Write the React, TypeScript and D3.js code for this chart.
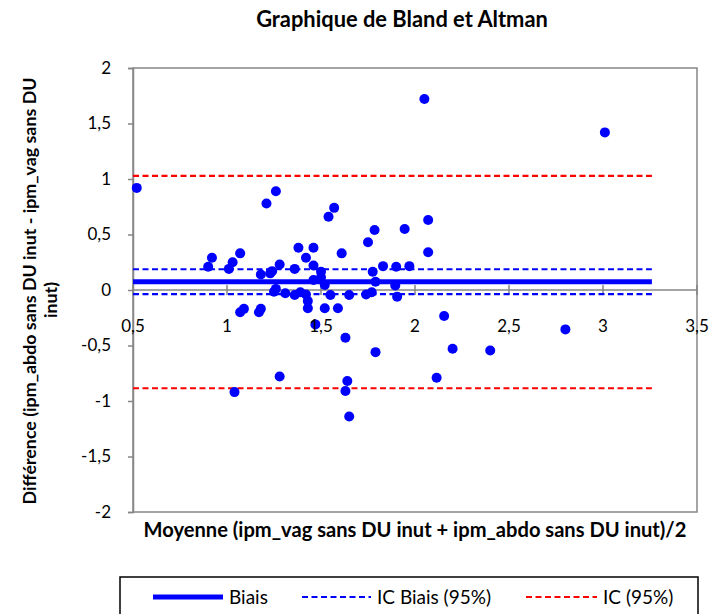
import React, { useEffect, useRef } from 'react'
import * as d3 from 'd3'

// moyenne (x) / différence (y)
const moyennes = [
  0.52, 0.9, 0.92, 1.01, 1.03, 1.04, 1.07, 1.07, 1.09, 1.17, 1.18, 1.18, 1.21, 1.23, 1.24, 1.26, 1.26, 1.25,
  1.28, 1.28, 1.31, 1.36, 1.36, 1.38, 1.39, 1.42, 1.42, 1.43, 1.43, 1.46, 1.46, 1.46, 1.47, 1.5, 1.5, 1.52,
  1.52, 1.54, 1.55, 1.57, 1.59, 1.61, 1.63, 1.63, 1.64, 1.65, 1.65, 1.74, 1.75, 1.77, 1.775, 1.785, 1.79,
  1.79, 1.83, 1.895, 1.9, 1.905, 1.945, 1.97, 2.05, 2.07, 2.07, 2.115, 2.155, 2.2, 2.4, 2.8, 3.01,
]
const differences = [
  0.92, 0.21, 0.29, 0.19, 0.25, -0.92, 0.33, -0.2, -0.17, -0.2, -0.17, 0.14, 0.78, 0.15, 0.17, 0.89, 0.01, -0.015,
  0.23, -0.78, -0.03, 0.19, -0.045, 0.38, -0.02, 0.29, -0.04, -0.1, -0.165, 0.38, 0.22, 0.09, -0.31, 0.165, 0.115, 0.045,
  -0.165, 0.66, -0.045, 0.74, -0.165, 0.33, -0.43, -0.91, -0.82, -1.14, -0.045, -0.04, 0.43, -0.02, 0.165, 0.54, 0.075,
  -0.56, 0.215, 0.04, 0.21, -0.06, 0.55, 0.215, 1.72, 0.63, 0.34, -0.79, -0.235, -0.53, -0.545, -0.355, 1.42,
]

const biais = 0.075
const icBiais = [0.187, -0.038]
const ic = [1.028, -0.885]
const lineRange = [0.5, 3.26]

const xTicks = [0.5, 1, 1.5, 2, 2.5, 3, 3.5]
const yTicks = [-2, -1.5, -1, -0.5, 0, 0.5, 1, 1.5, 2]

const FONT = 'Lato, "Open Sans", sans-serif'
const fmt = (d: number) => String(d).replace('.', ',')

// ajuste la taille de police pour retrouver la largeur du texte d'origine
const fit = (sel: any, width: number) => {
  const w = sel.node().getComputedTextLength()
  const fs = parseFloat(sel.attr('font-size'))
  if (w > 0) sel.attr('font-size', (fs * width) / w)
  return sel
}

function App() {
  const ref = useRef<SVGSVGElement>(null)

  useEffect(() => {
    const svg = d3.select(ref.current)
    svg.selectAll('*').remove()

    const left = 133
    const right = 697
    const top = 68
    const bottom = 512

    const x = d3.scaleLinear().domain([0.5, 3.5]).range([left, right])
    const y = d3.scaleLinear().domain([-2, 2]).range([bottom, top])

    // titre
    const title = svg
      .append('text')
      .attr('x', 402)
      .attr('y', 27)
      .attr('text-anchor', 'middle')
      .attr('font-family', FONT)
      .attr('font-weight', 'bold')
      .attr('font-size', 15)
      .text('Graphique de Bland et Altman')
    fit(title, 292)

    // cadre de la zone de tracé
    svg
      .append('rect')
      .attr('x', left)
      .attr('y', top)
      .attr('width', right - left)
      .attr('height', bottom - top)
      .attr('fill', 'none')
      .attr('stroke', '#868686')
      .attr('stroke-width', 1.5)

    // axe y
    const yAxis = svg
      .append('g')
      .attr('transform', `translate(${left},0)`)
      .call(d3.axisLeft(y).tickValues(yTicks).tickSize(5).tickPadding(17).tickFormat((d) => fmt(d as number)))
    yAxis.select('.domain').attr('stroke', '#868686').attr('stroke-width', 1.5)
    yAxis.selectAll('.tick line').attr('stroke', '#868686').attr('stroke-width', 1.5)
    yAxis.selectAll('.tick text').attr('font-family', FONT).attr('font-size', 17).attr('fill', '#000')

    // axe x (croise en y = 0)
    const xAxis = svg.append('g').attr('transform', `translate(0,${y(0)})`)
    xAxis
      .append('line')
      .attr('x1', left)
      .attr('x2', right)
      .attr('stroke', '#868686')
      .attr('stroke-width', 1.5)
    xAxis
      .selectAll('line.tick')
      .data(xTicks)
      .join('line')
      .attr('class', 'tick')
      .attr('x1', (d) => x(d))
      .attr('x2', (d) => x(d))
      .attr('y1', -5)
      .attr('y2', 5)
      .attr('stroke', '#868686')
      .attr('stroke-width', 1.5)

    // lignes biais / IC
    const hline = (v: number, color: string, width: number, dash: string | null) => {
      svg
        .append('line')
        .attr('x1', x(lineRange[0]))
        .attr('x2', x(lineRange[1]))
        .attr('y1', y(v))
        .attr('y2', y(v))
        .attr('stroke', color)
        .attr('stroke-width', width)
        .attr('stroke-dasharray', dash)
    }
    hline(biais, '#0000ff', 5, null)
    icBiais.forEach((v) => hline(v, '#0000ff', 2.2, '6,3.5'))
    ic.forEach((v) => hline(v, '#ff0000', 2.2, '6,3.5'))

    // points
    svg
      .append('g')
      .selectAll('circle')
      .data(moyennes)
      .join('circle')
      .attr('cx', (d) => x(d))
      .attr('cy', (d, i) => y(differences[i]))
      .attr('r', 5)
      .attr('fill', '#0000ff')

    // étiquettes de l'axe x (dessus les points)
    svg
      .append('g')
      .selectAll('text')
      .data(xTicks)
      .join('text')
      .attr('x', (d) => x(d))
      .attr('y', 332)
      .attr('text-anchor', 'middle')
      .attr('font-family', FONT)
      .attr('font-size', 17)
      .text((d) => fmt(d))

    // titres des axes
    const xTitle = svg
      .append('text')
      .attr('x', 415)
      .attr('y', 537)
      .attr('text-anchor', 'middle')
      .attr('font-family', FONT)
      .attr('font-weight', 'bold')
      .attr('font-size', 15)
      .text('Moyenne (ipm_vag sans DU inut + ipm_abdo sans DU inut)/2')
    fit(xTitle, 543)

    const yTitle = svg
      .append('text')
      .attr('transform', `translate(0,291) rotate(-90)`)
      .attr('text-anchor', 'middle')
      .attr('font-family', FONT)
      .attr('font-weight', 'bold')
      .attr('font-size', 15)
    yTitle.append('tspan').attr('x', 0).attr('y', 36).text('Différence (ipm_abdo sans DU inut - ipm_vag sans DU')
    yTitle.append('tspan').attr('x', -9).attr('y', 57).text('inut)')
    const w1 = (yTitle.select('tspan').node() as any).getComputedTextLength()
    yTitle.attr('font-size', (15 * 427) / w1)

    // légende
    const lg = svg.append('g')
    lg.append('rect')
      .attr('x', 120)
      .attr('y', 577)
      .attr('width', 578)
      .attr('height', 45)
      .attr('fill', 'none')
      .attr('stroke', '#000')
      .attr('stroke-width', 1.5)
    const items = [
      { label: 'Biais', color: '#0000ff', width: 5, dash: null, x0: 153, x1: 223 },
      { label: 'IC Biais (95%)', color: '#0000ff', width: 2.2, dash: '6,3.5', x0: 302, x1: 371 },
      { label: 'IC (95%)', color: '#ff0000', width: 2.2, dash: '6,3.5', x0: 526, x1: 597 },
    ]
    items.forEach((it) => {
      lg.append('line')
        .attr('x1', it.x0)
        .attr('x2', it.x1)
        .attr('y1', 597)
        .attr('y2', 597)
        .attr('stroke', it.color)
        .attr('stroke-width', it.width)
        .attr('stroke-dasharray', it.dash)
      lg.append('text')
        .attr('x', it.x1 + 6)
        .attr('y', 604)
        .attr('font-family', FONT)
        .attr('font-size', 19)
        .text(it.label)
    })
  }, [])

  return (
    <svg
      ref={ref}
      width={721}
      height={614}
      style={{ position: 'absolute', left: 0, top: 0, background: '#fff' }}
    />
  )
}

export default App
